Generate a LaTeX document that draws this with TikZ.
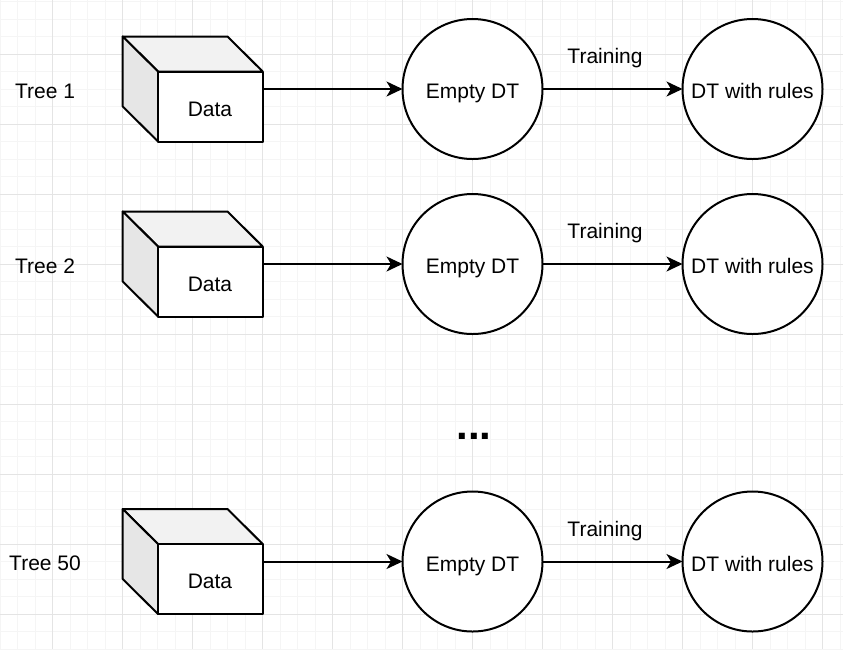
\documentclass[tikz,border=0pt]{standalone}
\usepackage{fontspec}
\setmainfont{Liberation Sans}
\usetikzlibrary{arrows.meta}
\definecolor{gridmajor}{HTML}{E4E4E4}
\definecolor{gridminor}{HTML}{F5F5F5}
\definecolor{sideface}{HTML}{E6E6E6}
\definecolor{topface}{HTML}{F2F2F2}
\tikzset{
  x=1pt,y=-1pt,
  outline/.style={draw=black,line width=2pt,line join=round},
  front/.style={outline,fill=white,minimum width=104.5pt,minimum height=70pt,inner sep=0pt,outer sep=0pt,anchor=north west},
  round node/.style={draw=black,line width=2pt,fill=white,circle,minimum size=140pt,inner sep=0pt,outer sep=0pt,text height=19.5pt,text depth=0.5pt,font=\fontsize{21pt}{25pt}\selectfont},
  lbl/.style={inner sep=0pt,font=\fontsize{21pt}{25pt}\selectfont},
  link/.style={draw=black,line width=2pt,-{Stealth[length=16pt,width=15pt,inset=4.5pt]},shorten >=0pt}
}
\newcommand{\treerow}[3]{%
  % #1 = row offset, #2 = row id, #3 = tree label
  \begin{scope}[shift={(0,#1)}]
    \path[outline,fill=topface] (122.7,36.5) -- (227.5,36.5) -- (262.7,71.5) -- (158,71.5) -- cycle;
    \path[outline,fill=sideface] (122.7,36.5) -- (158,71.5) -- (158,141.5) -- (122.7,106.5) -- cycle;
    \node[front] (box#2) at (158,71.5) {};
    \node[lbl] (data#2) at (210,109) {Data};
    \node[lbl] (tree#2) at (45,91) {#3};
    \node[round node] (empty#2) at (472.5,89) {Empty DT};
    \node[round node] (rules#2) at (752.5,89) {DT with rules};
    \node[lbl] (train#2) at (605,58.5) {Training};
    \draw[link] (box#2.east |- empty#2.west) -- (empty#2.west);
    \draw[link] (empty#2) -- (rules#2);
  \end{scope}}
\begin{document}
\begin{tikzpicture}
  \useasboundingbox (0,0) rectangle (843,649);
  \fill[white] (0,0) rectangle (843,649);
  \foreach \k in {0,...,48} {
    \draw[gridminor,line width=1pt] ({0.2+17.5*\k},0) -- ({0.2+17.5*\k},649);
    \draw[gridminor,line width=1pt] (0,{1.5+17.5*\k}) -- (843,{1.5+17.5*\k});
  }
  \foreach \k in {0,...,12} {
    \draw[gridmajor,line width=1pt] ({52.7+70*\k},0) -- ({52.7+70*\k},649);
    \draw[gridmajor,line width=1pt] (0,{54+70*\k}) -- (843,{54+70*\k});
  }
  \treerow{0}{a}{Tree 1}
  \treerow{175}{b}{Tree 2}
  \treerow{472.5}{c}{Tree 50}
  \node[inner sep=0pt,font=\fontsize{42pt}{46pt}\selectfont\bfseries] (dots) at (474,436) {...};
\end{tikzpicture}
\end{document}
